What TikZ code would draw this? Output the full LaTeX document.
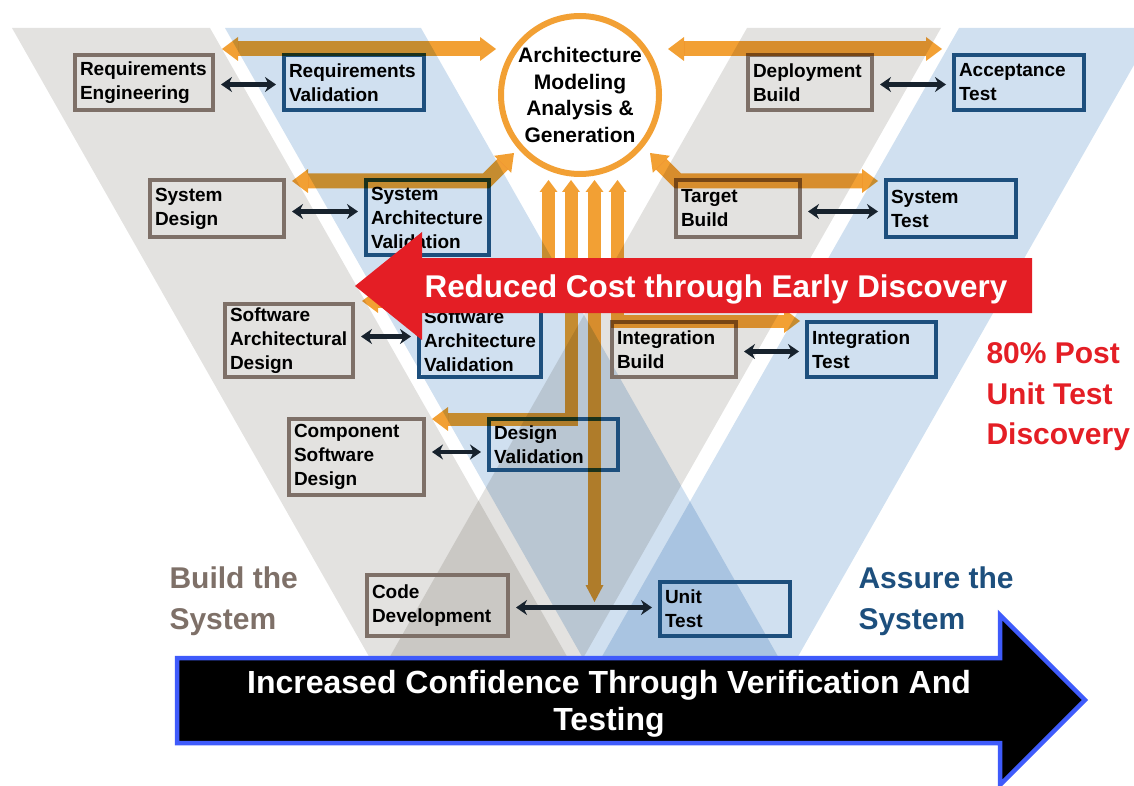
\documentclass[tikz,border=0pt]{standalone}
\usepackage{fontspec}
\setmainfont{Liberation Sans}
\usetikzlibrary{arrows.meta}

\definecolor{armgray}{HTML}{E3E2E0}
\definecolor{armblue}{HTML}{D0E0F0}
\definecolor{buildgray}{HTML}{7E7068}
\definecolor{assureblue}{HTML}{1D4F7D}
\definecolor{flow}{HTML}{F2A034}
\definecolor{cutred}{HTML}{E41E25}
\definecolor{edgeblue}{HTML}{3F5BFB}
\definecolor{linkdark}{HTML}{17222D}

\begin{document}
\begin{tikzpicture}[x=1pt,y=-1pt,
  arm/.style={blend mode=multiply},
  box/.style={draw, line width=4pt, inner sep=0pt, align=left,
    font=\fontsize{19}{24}\selectfont\bfseries},
  gbox/.style={box, draw=buildgray},
  bbox/.style={box, draw=assureblue},
  dims/.style n args={3}{minimum width=#1pt, minimum height=#2pt, text width=#3pt},
  link/.style={draw=linkdark, line width=4.5pt,
    {Stealth[length=11pt,width=15pt]}-{Stealth[length=11pt,width=15pt]},
    shorten >=6pt, shorten <=6pt},
  flowbar/.style={draw=flow, line width=15pt, line join=miter, blend mode=multiply},
  flowstem/.style={draw=flow, line width=13pt, line join=miter, blend mode=multiply},
  flowhead/.pic={\fill[flow, blend mode=multiply] (0pt,0pt) -- (-16pt,12pt) -- (-16pt,-12pt) -- cycle;},
  stemhead/.pic={\fill[flow, blend mode=multiply] (0pt,0pt) -- (-12pt,9pt) -- (-12pt,-9pt) -- cycle;},
  drophead/.pic={\fill[flow, blend mode=multiply] (0pt,0pt) -- (-17pt,9pt) -- (-17pt,-9pt) -- cycle;},
  phase/.style={font=\fontsize{30}{41}\selectfont\bfseries, align=left, anchor=west}
]
\useasboundingbox (0,0) rectangle (1134,786);

% the two overlapping V bands
\fill[armgray, arm] (12,28) -- (210,28) -- (569,660) -- (371,660) -- cycle;
\fill[armgray, arm] (747,28) -- (941,28) -- (582,660) -- (388,660) -- cycle;
\fill[armblue, arm] (225,28) -- (421,28) -- (780,660) -- (584,660) -- cycle;
\fill[armblue, arm] (959,28) -- (1155,28) -- (796,660) -- (600,660) -- cycle;

% process boxes
\node[gbox, dims={138}{55}{128}] (re) at (144,82.5) {Requirements\\Engineering};
\node[bbox, dims={140}{55}{130}] (rv) at (354,82.5) {Requirements\\Validation};
\node[gbox, dims={124}{55}{114}] (db) at (810,82.5) {Deployment\\Build};
\node[bbox, dims={130}{55}{120}] (at) at (1019,82.5) {Acceptance\\Test};
\node[gbox, dims={134}{57}{124}] (sd) at (217,208.5) {System\\Design};
\node[bbox, dims={123}{75}{113}] (sav) at (427.5,217.5) {System\\Architecture\\Validation};
\node[gbox, dims={124}{57}{114}] (tb) at (738,208.5) {Target\\Build};
\node[bbox, dims={130}{57}{120}] (st) at (951,208.5) {System\\Test};
\node[gbox, dims={128}{73}{118}] (sad) at (289,340.5) {Software\\Architectural\\Design};
\node[bbox, dims={122}{73}{112}] (sv) at (480,340.5) {Software\\Architecture\\Validation};
\node[gbox, dims={124}{55}{114}] (ib) at (674,349.5) {Integration\\Build};
\node[bbox, dims={129}{55}{119}] (it) at (871.5,349.5) {Integration\\Test};
\node[gbox, dims={135}{76}{125}] (csd) at (356.5,457) {Component\\Software\\Design};
\node[bbox, dims={129}{51}{119}] (dv) at (553.5,444.5) {Design\\Validation};
\node[gbox, dims={141}{61}{131}] (cd) at (437.5,605.5) {Code\\Development};
\node[bbox, dims={130}{54}{120}] (ut) at (725,609) {Unit\\Test};

% two-way links between build and assure steps
\draw[link] ([yshift=-2pt]re.east) -- ([yshift=-2pt]rv.west);
\draw[link] ([yshift=-2pt]db.east) -- ([yshift=-2pt]at.west);
\draw[link] ([yshift=-3pt]sd.east) -- ([yshift=-3pt]sd.east -| sav.west);
\draw[link] ([yshift=-3pt]tb.east) -- ([yshift=-3pt]st.west);
\draw[link] ([yshift=4pt]sad.east) -- ([yshift=4pt]sv.west);
\draw[link] ([yshift=-2pt]ib.east) -- ([yshift=-2pt]it.west);
\draw[link] ([yshift=5pt]csd.east) -- ([yshift=5pt]csd.east -| dv.west);
\draw[link] ([yshift=-2pt]cd.east) -- ([yshift=-2pt]cd.east -| ut.west);

% model exchange flows: bars end where their heads begin
\coordinate (fA1) at (222,49);  \coordinate (fA2) at (496,49);
\coordinate (fB1) at (668,49);  \coordinate (fB2) at (942,49);
\coordinate (fC1) at (292,181); \coordinate (fC2) at (486,181); \coordinate (fC3) at (514,153);
\coordinate (fD1) at (650,153); \coordinate (fD2) at (678,181); \coordinate (fD3) at (878,181);
\coordinate (s1a) at (362,301); \coordinate (s1b) at (548.5,301); \coordinate (s1c) at (548.5,180);
\coordinate (s2a) at (432,419); \coordinate (s2b) at (571,419);   \coordinate (s2c) at (571,180);
\coordinate (s3a) at (594.5,602); \coordinate (s3b) at (594.5,180);
\coordinate (s4a) at (617.5,180); \coordinate (s4b) at (617.5,321); \coordinate (s4c) at (800,321);

\draw[flowbar, shorten <=16pt, shorten >=16pt] (fA1) -- (fA2);
\draw[flowbar, shorten <=16pt, shorten >=16pt] (fB1) -- (fB2);
\draw[flowbar, shorten <=16pt, shorten >=16pt] (fC1) -- (fC2) -- (fC3);
\draw[flowbar, shorten <=16pt, shorten >=16pt] (fD1) -- (fD2) -- (fD3);
\draw[flowstem, shorten <=16pt, shorten >=12pt] (s1a) -- (s1b) -- (s1c);
\draw[flowstem, shorten <=16pt, shorten >=12pt] (s2a) -- (s2b) -- (s2c);
\draw[flowstem, shorten <=17pt, shorten >=12pt] (s3a) -- (s3b);
\draw[flowstem, shorten <=12pt, shorten >=16pt] (s4a) -- (s4b) -- (s4c);

\pic[rotate=180] at (fA1) {flowhead};  \pic at (fA2) {flowhead};
\pic[rotate=180] at (fB1) {flowhead};  \pic at (fB2) {flowhead};
\pic[rotate=180] at (fC1) {flowhead};  \pic[rotate=45] at (fC3) {flowhead};
\pic[rotate=135] at (fD1) {flowhead};  \pic at (fD3) {flowhead};
\pic[rotate=180] at (s1a) {flowhead};  \pic[rotate=90] at (s1c) {stemhead};
\pic[rotate=180] at (s2a) {flowhead};  \pic[rotate=90] at (s2c) {stemhead};
\pic[rotate=-90] at (s3a) {drophead};  \pic[rotate=90] at (s3b) {stemhead};
\pic[rotate=90] at (s4a) {stemhead};   \pic at (s4c) {flowhead};

% central model hub
\node[circle, draw=flow, line width=6pt, fill=white, minimum size=158pt,
  inner sep=0pt, align=center, font=\fontsize{21}{26.7}\selectfont\bfseries]
  (hub) at (580,95) {Architecture\\Modeling\\Analysis \&\\Generation};

% early discovery arrow
\fill[cutred] (355,286) -- (422,232) -- (422,258) -- (1032,258) -- (1032,313)
  -- (422,313) -- (422,340) -- cycle;
\node[font=\fontsize{31.4}{31}\selectfont\bfseries, text=white, anchor=base]
  (cost) at (716,297) {Reduced Cost through Early Discovery};

% confidence arrow
\draw[edgeblue, line width=4.5pt, fill=black, line join=miter]
  (177,658) -- (1000,658) -- (1000,615) -- (1085,700) -- (1000,785)
  -- (1000,743) -- (177,743) -- cycle;
\node[font=\fontsize{32}{37}\selectfont\bfseries, text=white, align=center]
  (conf) at (609,704) {Increased Confidence Through Verification And\\Testing};

% side captions
\node[phase, text=buildgray] (build) at (166,601) {Build the\\System};
\node[phase, text=assureblue] (assure) at (855,601) {Assure the\\System};
\node[font=\fontsize{30}{40.5}\selectfont\bfseries, text=cutred, align=left, anchor=west]
  (post) at (983,397) {80\% Post\\Unit Test\\Discovery};
\end{tikzpicture}
\end{document}
